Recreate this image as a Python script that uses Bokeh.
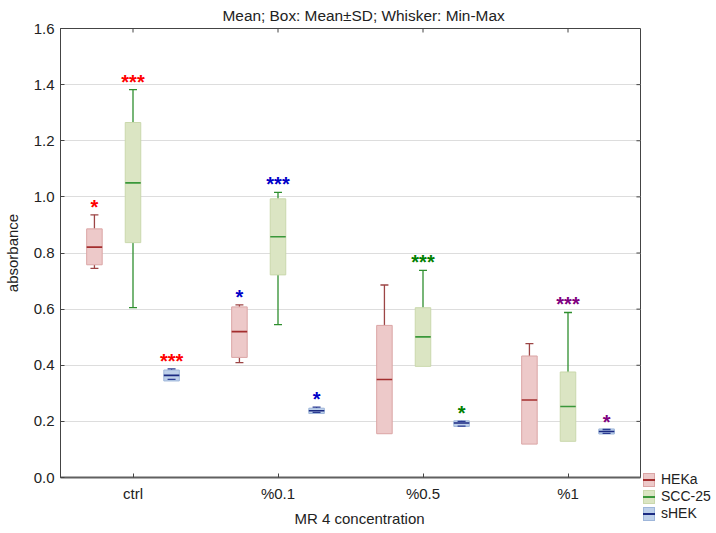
from bokeh.plotting import figure
from bokeh.layouts import row
from bokeh.models import (ColumnDataSource, FactorRange, FixedTicker, PrintfTickFormatter,
                          Range1d, Title, Div)
from bokeh.transform import dodge
from bokeh.core.properties import value
from bokeh.embed import file_html
from bokeh.resources import INLINE

# ---------------- data ----------------
categories = ["ctrl", "%0.1", "%0.5", "%1"]
series_names = ["HEKa", "SCC-25", "sHEK"]
y_ticks = [0.0, 0.2, 0.4, 0.6, 0.8, 1.0, 1.2, 1.4, 1.6]

heka_mean = [0.821, 0.520, 0.349, 0.276]
heka_box_low = [0.758, 0.428, 0.156, 0.119]
heka_box_high = [0.886, 0.608, 0.542, 0.433]
heka_min = [0.745, 0.409, 0.156, 0.119]
heka_max = [0.936, 0.615, 0.686, 0.477]

scc_mean = [1.050, 0.858, 0.501, 0.253]
scc_box_low = [0.837, 0.722, 0.396, 0.129]
scc_box_high = [1.265, 0.993, 0.605, 0.376]
scc_min = [0.605, 0.545, 0.396, 0.129]
scc_max = [1.382, 1.016, 0.738, 0.588]

shek_mean = [0.364, 0.238, 0.194, 0.164]
shek_box_low = [0.344, 0.228, 0.182, 0.155]
shek_box_high = [0.383, 0.247, 0.202, 0.173]
shek_min = [0.350, 0.232, 0.183, 0.157]
shek_max = [0.387, 0.251, 0.200, 0.171]

heka_stars = ["*", "*", "", ""]
scc_stars = ["***", "***", "***", "***"]
shek_stars = ["***", "*", "*", "*"]
star_colors = ["#FF0000", "#0000C8", "#008000", "#800080"]

# ---------------- styles ----------------
FONT = "Liberation Sans"
OFFSETS = [-0.266, 0.0, 0.266]
BOX_W = 0.107
CAP_W = 0.055
TICK_X = 0.028   # inner tick length on the right edge (category units)
TICK_Y = 0.0142  # inner tick length on the top edge (value units)
FILLS = ["#EDC9C9", "#DBE5C3", "#BED0EA"]
BORDERS = ["#DBA5A5", "#CAD8AC", "#9EB6DA"]
MEANS = ["#A32E2E", "#3A973A", "#1B2A82"]
WHISK = ["#9C4545", "#2E8E2E", "#2B3B92"]
FRAME = "#444444"

p = figure(width=642, height=533,
           x_range=FactorRange(factors=categories), y_range=Range1d(0, 1.6),
           output_backend="svg", toolbar_location=None,
           min_border_left=60, min_border_right=2, min_border_top=26, min_border_bottom=56)

p.title.text = "Mean; Box: Mean±SD; Whisker: Min-Max"
p.title.text_font = FONT
p.title.text_font_size = "15.4px"
p.title.text_font_style = "normal"
p.title.text_color = "#222222"
p.title.align = "left"
p.title.offset = 162
p.title.standoff = 9

p.outline_line_color = FRAME
p.outline_line_width = 1
p.xgrid.grid_line_color = None
p.ygrid.grid_line_color = "#DDDDDD"
p.ygrid.grid_line_width = 1
p.ygrid.ticker = FixedTicker(ticks=y_ticks)

yax = p.yaxis[0]
yax.ticker = FixedTicker(ticks=y_ticks)
yax.formatter = PrintfTickFormatter(format="%.1f")
yax.axis_label = "absorbance"
xax = p.xaxis[0]
for ax in (xax, yax):
    ax.major_label_text_font = FONT
    ax.major_label_text_font_size = "15px"
    ax.major_label_text_color = "#222222"
    ax.axis_label_text_font = FONT
    ax.axis_label_text_font_size = "15px"
    ax.axis_label_text_font_style = "normal"
    ax.axis_label_text_color = "#222222"
    ax.major_tick_in = 4
    ax.major_tick_out = 0
    ax.minor_tick_line_color = None
    ax.axis_line_color = FRAME
    ax.major_tick_line_color = FRAME
yax.major_label_standoff = 6
yax.axis_label_standoff = 10
xax.major_label_standoff = 7
xax.axis_line_width = 2
xax.axis_line_color = "#606060"

xtitle = Title(text="MR 4  concentration", align="left", offset=234, standoff=6,
               text_font=FONT, text_font_size="15px", text_font_style="normal",
               text_color="#222222")
p.add_layout(xtitle, "below")

# inner ticks on the right and top edges of the frame
n_cat = len(categories)
rt = ColumnDataSource(dict(y=y_ticks[1:-1]))
p.segment(x0=n_cat, x1=n_cat - TICK_X, y0="y", y1="y", source=rt, line_color=FRAME, line_width=1)
tt = ColumnDataSource(dict(cat=categories))
top_v = y_ticks[-1]
p.segment(x0="cat", x1="cat", y0=top_v, y1=top_v - TICK_Y, source=tt, line_color=FRAME, line_width=1)

# ---------------- draw ----------------
all_series = [
    (heka_mean, heka_box_low, heka_box_high, heka_min, heka_max, heka_stars),
    (scc_mean, scc_box_low, scc_box_high, scc_min, scc_max, scc_stars),
    (shek_mean, shek_box_low, shek_box_high, shek_min, shek_max, shek_stars),
]

for i, (mean, lo, hi, mn, mx, stars) in enumerate(all_series):
    off = OFFSETS[i]
    src = ColumnDataSource(dict(cat=categories, mean=mean, lo=lo, hi=hi, mn=mn, mx=mx))
    xc = dodge("cat", off, range=p.x_range)
    p.segment(x0=xc, x1=xc, y0="hi", y1="mx", source=src, line_color=WHISK[i], line_width=1.3)
    p.segment(x0=xc, x1=xc, y0="mn", y1="lo", source=src, line_color=WHISK[i], line_width=1.3)
    p.vbar(x=xc, width=BOX_W, bottom="lo", top="hi", source=src,
           fill_color=FILLS[i], line_color=BORDERS[i], line_width=1)
    p.segment(x0=dodge("cat", off - BOX_W / 2, range=p.x_range),
              x1=dodge("cat", off + BOX_W / 2, range=p.x_range),
              y0="mean", y1="mean", source=src, line_color=MEANS[i], line_width=1.6)
    cap_cat, cap_y = [], []
    for c, a, b, l in zip(categories, mn, mx, lo):
        cap_cat.append(c); cap_y.append(b)
        if a != l:
            cap_cat.append(c); cap_y.append(a)
    csrc = ColumnDataSource(dict(cat=cap_cat, y=cap_y))
    p.segment(x0=dodge("cat", off - CAP_W / 2, range=p.x_range),
              x1=dodge("cat", off + CAP_W / 2, range=p.x_range),
              y0="y", y1="y", source=csrc, line_color=WHISK[i], line_width=1.3)
    keep = [k for k, s in enumerate(stars) if s]
    ssrc = ColumnDataSource(dict(cat=[categories[k] for k in keep], y=[mx[k] for k in keep],
                                 star=[stars[k] for k in keep],
                                 scol=[star_colors[k] for k in keep]))
    p.text(x=dodge("cat", off, range=p.x_range), y="y", text="star", source=ssrc,
           text_color="scol", text_font=value(FONT), text_font_size="20px",
           text_font_style="bold", text_align="center", text_baseline="middle", y_offset=-8)

# ---------------- legend (beside the plot, below the frame's bottom edge) ----------------
rows_html = []
for name, f, b, m in zip(series_names, FILLS, BORDERS, MEANS):
    rows_html.append(
        '<div style="display:flex;align-items:center;height:17px;">'
        f'<span style="position:relative;display:inline-block;box-sizing:border-box;'
        f'width:12px;height:14px;background:{f};border:1px solid {b};">'
        f'<span style="position:absolute;left:-1px;right:-1px;top:5px;height:2px;'
        f'background:{m};"></span></span>'
        f'<span style="margin-left:6px;font-family:\'{FONT}\';font-size:14px;color:#222222;'
        f'line-height:17px;white-space:nowrap;">{name}</span></div>')
legend_div = Div(text=f'<div style="padding-top:471px;padding-left:1px;">{"".join(rows_html)}</div>',
                 width=74, height=533, margin=(0, 0, 0, 0))

layout = row(p, legend_div, spacing=0)

open("out.html", "w").write(file_html(layout, INLINE))
